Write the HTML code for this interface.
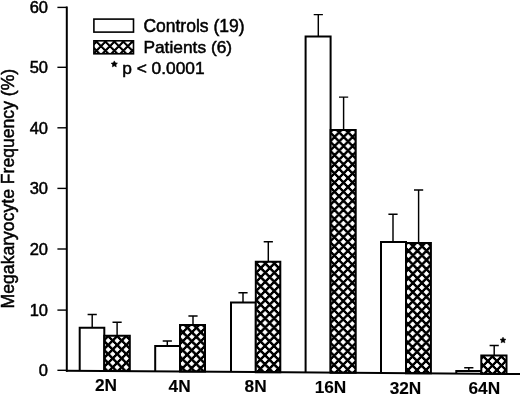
<!DOCTYPE html>
<html><head><meta charset="utf-8">
<style>
html,body{margin:0;padding:0;background:#fff;}
svg{display:block;will-change:transform;}
text{font-family:"Liberation Sans",sans-serif;fill:#000;stroke:#000;stroke-width:0.5px;}
text.b{stroke-width:0.1px;}
</style></head><body>
<svg width="520" height="395" viewBox="0 0 520 395">
<defs>
<clipPath id="c0"><rect x="104.30" y="335.80" width="25.50" height="35.23"/></clipPath>
<clipPath id="c1"><rect x="180.00" y="324.90" width="25.00" height="46.69"/></clipPath>
<clipPath id="c2"><rect x="255.80" y="261.70" width="24.50" height="110.45"/></clipPath>
<clipPath id="c3"><rect x="330.60" y="130.00" width="25.10" height="242.70"/></clipPath>
<clipPath id="c4"><rect x="406.00" y="243.10" width="24.90" height="130.15"/></clipPath>
<clipPath id="c5"><rect x="481.30" y="355.50" width="25.20" height="18.31"/></clipPath>
<clipPath id="cl"><rect x="93.9" y="40.8" width="39.6" height="13"/></clipPath>
</defs>
<rect width="520" height="395" fill="#fff"/>
<path d="M92.2 327.7 V314.4 M87.6 314.4 H96.8 M117.1 335.8 V322.3 M112.5 322.3 H121.7" stroke="#000" stroke-width="1.45" fill="none"/>
<path d="M79.7 370.85 V327.7 H104.3 V370.85" fill="#fff" stroke="#000" stroke-width="2"/>
<rect x="104.3" y="335.8" width="25.50" height="35.23" fill="#000"/>
<path clip-path="url(#c0)" d="M103.70 333.83l2.35 2.32l-2.35 2.32l-2.35 -2.32zM112.70 333.83l2.35 2.32l-2.35 2.32l-2.35 -2.32zM121.70 333.83l2.35 2.32l-2.35 2.32l-2.35 -2.32zM130.70 333.83l2.35 2.32l-2.35 2.32l-2.35 -2.32zM108.20 338.28l2.35 2.32l-2.35 2.32l-2.35 -2.32zM117.20 338.28l2.35 2.32l-2.35 2.32l-2.35 -2.32zM126.20 338.28l2.35 2.32l-2.35 2.32l-2.35 -2.32zM103.70 342.73l2.35 2.32l-2.35 2.32l-2.35 -2.32zM112.70 342.73l2.35 2.32l-2.35 2.32l-2.35 -2.32zM121.70 342.73l2.35 2.32l-2.35 2.32l-2.35 -2.32zM130.70 342.73l2.35 2.32l-2.35 2.32l-2.35 -2.32zM108.20 347.18l2.35 2.32l-2.35 2.32l-2.35 -2.32zM117.20 347.18l2.35 2.32l-2.35 2.32l-2.35 -2.32zM126.20 347.18l2.35 2.32l-2.35 2.32l-2.35 -2.32zM103.70 351.63l2.35 2.32l-2.35 2.32l-2.35 -2.32zM112.70 351.63l2.35 2.32l-2.35 2.32l-2.35 -2.32zM121.70 351.63l2.35 2.32l-2.35 2.32l-2.35 -2.32zM130.70 351.63l2.35 2.32l-2.35 2.32l-2.35 -2.32zM108.20 356.08l2.35 2.32l-2.35 2.32l-2.35 -2.32zM117.20 356.08l2.35 2.32l-2.35 2.32l-2.35 -2.32zM126.20 356.08l2.35 2.32l-2.35 2.32l-2.35 -2.32zM103.70 360.53l2.35 2.32l-2.35 2.32l-2.35 -2.32zM112.70 360.53l2.35 2.32l-2.35 2.32l-2.35 -2.32zM121.70 360.53l2.35 2.32l-2.35 2.32l-2.35 -2.32zM130.70 360.53l2.35 2.32l-2.35 2.32l-2.35 -2.32zM108.20 364.98l2.35 2.32l-2.35 2.32l-2.35 -2.32zM117.20 364.98l2.35 2.32l-2.35 2.32l-2.35 -2.32zM126.20 364.98l2.35 2.32l-2.35 2.32l-2.35 -2.32zM103.70 369.43l2.35 2.32l-2.35 2.32l-2.35 -2.32zM112.70 369.43l2.35 2.32l-2.35 2.32l-2.35 -2.32zM121.70 369.43l2.35 2.32l-2.35 2.32l-2.35 -2.32zM130.70 369.43l2.35 2.32l-2.35 2.32l-2.35 -2.32z" fill="#fff" stroke="#fff" stroke-width="0.8" stroke-linejoin="round"/>
<path d="M104.3 371.03 V335.8 H129.8 V371.03 Z" fill="none" stroke="#000" stroke-width="2"/>
<text x="106.0" y="391.1" font-size="17.3" font-weight="bold" text-anchor="middle" class="b">2N</text>
<path d="M167.3 346.0 V341.0 M162.7 341.0 H171.9 M193.0 324.9 V315.9 M188.4 315.9 H197.6" stroke="#000" stroke-width="1.45" fill="none"/>
<path d="M155.2 371.41 V346.0 H180.0 V371.41" fill="#fff" stroke="#000" stroke-width="2"/>
<rect x="180.0" y="324.9" width="25.00" height="46.69" fill="#000"/>
<path clip-path="url(#c1)" d="M178.44 320.97l2.35 2.34l-2.35 2.34l-2.35 -2.34zM187.44 320.97l2.35 2.34l-2.35 2.34l-2.35 -2.34zM196.44 320.97l2.35 2.34l-2.35 2.34l-2.35 -2.34zM205.44 320.97l2.35 2.34l-2.35 2.34l-2.35 -2.34zM182.90 325.46l2.35 2.34l-2.35 2.34l-2.35 -2.34zM191.90 325.46l2.35 2.34l-2.35 2.34l-2.35 -2.34zM200.90 325.46l2.35 2.34l-2.35 2.34l-2.35 -2.34zM178.36 329.94l2.35 2.34l-2.35 2.34l-2.35 -2.34zM187.36 329.94l2.35 2.34l-2.35 2.34l-2.35 -2.34zM196.36 329.94l2.35 2.34l-2.35 2.34l-2.35 -2.34zM205.36 329.94l2.35 2.34l-2.35 2.34l-2.35 -2.34zM182.83 334.43l2.35 2.34l-2.35 2.34l-2.35 -2.34zM191.83 334.43l2.35 2.34l-2.35 2.34l-2.35 -2.34zM200.83 334.43l2.35 2.34l-2.35 2.34l-2.35 -2.34zM178.29 338.92l2.35 2.34l-2.35 2.34l-2.35 -2.34zM187.29 338.92l2.35 2.34l-2.35 2.34l-2.35 -2.34zM196.29 338.92l2.35 2.34l-2.35 2.34l-2.35 -2.34zM205.29 338.92l2.35 2.34l-2.35 2.34l-2.35 -2.34zM182.75 343.41l2.35 2.34l-2.35 2.34l-2.35 -2.34zM191.75 343.41l2.35 2.34l-2.35 2.34l-2.35 -2.34zM200.75 343.41l2.35 2.34l-2.35 2.34l-2.35 -2.34zM178.21 347.89l2.35 2.34l-2.35 2.34l-2.35 -2.34zM187.21 347.89l2.35 2.34l-2.35 2.34l-2.35 -2.34zM196.21 347.89l2.35 2.34l-2.35 2.34l-2.35 -2.34zM205.21 347.89l2.35 2.34l-2.35 2.34l-2.35 -2.34zM182.67 352.38l2.35 2.34l-2.35 2.34l-2.35 -2.34zM191.67 352.38l2.35 2.34l-2.35 2.34l-2.35 -2.34zM200.67 352.38l2.35 2.34l-2.35 2.34l-2.35 -2.34zM178.14 356.87l2.35 2.34l-2.35 2.34l-2.35 -2.34zM187.14 356.87l2.35 2.34l-2.35 2.34l-2.35 -2.34zM196.14 356.87l2.35 2.34l-2.35 2.34l-2.35 -2.34zM205.14 356.87l2.35 2.34l-2.35 2.34l-2.35 -2.34zM182.60 361.36l2.35 2.34l-2.35 2.34l-2.35 -2.34zM191.60 361.36l2.35 2.34l-2.35 2.34l-2.35 -2.34zM200.60 361.36l2.35 2.34l-2.35 2.34l-2.35 -2.34zM178.06 365.84l2.35 2.34l-2.35 2.34l-2.35 -2.34zM187.06 365.84l2.35 2.34l-2.35 2.34l-2.35 -2.34zM196.06 365.84l2.35 2.34l-2.35 2.34l-2.35 -2.34zM205.06 365.84l2.35 2.34l-2.35 2.34l-2.35 -2.34zM182.53 370.33l2.35 2.34l-2.35 2.34l-2.35 -2.34zM191.53 370.33l2.35 2.34l-2.35 2.34l-2.35 -2.34zM200.53 370.33l2.35 2.34l-2.35 2.34l-2.35 -2.34z" fill="#fff" stroke="#fff" stroke-width="0.8" stroke-linejoin="round"/>
<path d="M180.0 371.59 V324.9 H205.0 V371.59 Z" fill="none" stroke="#000" stroke-width="2"/>
<text x="179.6" y="391.6" font-size="17.3" font-weight="bold" text-anchor="middle" class="b">4N</text>
<path d="M243.0 302.4 V292.8 M238.4 292.8 H247.6 M268.3 261.7 V241.7 M263.7 241.7 H272.9" stroke="#000" stroke-width="1.45" fill="none"/>
<path d="M231.0 371.96 V302.4 H255.8 V371.96" fill="#fff" stroke="#000" stroke-width="2"/>
<rect x="255.8" y="261.7" width="24.50" height="110.45" fill="#000"/>
<path clip-path="url(#c2)" d="M256.36 256.47l2.35 2.39l-2.35 2.39l-2.35 -2.39zM265.36 256.47l2.35 2.39l-2.35 2.39l-2.35 -2.39zM274.36 256.47l2.35 2.39l-2.35 2.39l-2.35 -2.39zM283.36 256.47l2.35 2.39l-2.35 2.39l-2.35 -2.39zM260.84 261.05l2.35 2.39l-2.35 2.39l-2.35 -2.39zM269.84 261.05l2.35 2.39l-2.35 2.39l-2.35 -2.39zM278.84 261.05l2.35 2.39l-2.35 2.39l-2.35 -2.39zM256.32 265.63l2.35 2.39l-2.35 2.39l-2.35 -2.39zM265.32 265.63l2.35 2.39l-2.35 2.39l-2.35 -2.39zM274.32 265.63l2.35 2.39l-2.35 2.39l-2.35 -2.39zM283.32 265.63l2.35 2.39l-2.35 2.39l-2.35 -2.39zM260.80 270.21l2.35 2.39l-2.35 2.39l-2.35 -2.39zM269.80 270.21l2.35 2.39l-2.35 2.39l-2.35 -2.39zM278.80 270.21l2.35 2.39l-2.35 2.39l-2.35 -2.39zM256.28 274.79l2.35 2.39l-2.35 2.39l-2.35 -2.39zM265.28 274.79l2.35 2.39l-2.35 2.39l-2.35 -2.39zM274.28 274.79l2.35 2.39l-2.35 2.39l-2.35 -2.39zM283.28 274.79l2.35 2.39l-2.35 2.39l-2.35 -2.39zM260.76 279.37l2.35 2.39l-2.35 2.39l-2.35 -2.39zM269.76 279.37l2.35 2.39l-2.35 2.39l-2.35 -2.39zM278.76 279.37l2.35 2.39l-2.35 2.39l-2.35 -2.39zM256.24 283.95l2.35 2.39l-2.35 2.39l-2.35 -2.39zM265.24 283.95l2.35 2.39l-2.35 2.39l-2.35 -2.39zM274.24 283.95l2.35 2.39l-2.35 2.39l-2.35 -2.39zM283.24 283.95l2.35 2.39l-2.35 2.39l-2.35 -2.39zM260.72 288.53l2.35 2.39l-2.35 2.39l-2.35 -2.39zM269.72 288.53l2.35 2.39l-2.35 2.39l-2.35 -2.39zM278.72 288.53l2.35 2.39l-2.35 2.39l-2.35 -2.39zM256.20 293.11l2.35 2.39l-2.35 2.39l-2.35 -2.39zM265.20 293.11l2.35 2.39l-2.35 2.39l-2.35 -2.39zM274.20 293.11l2.35 2.39l-2.35 2.39l-2.35 -2.39zM283.20 293.11l2.35 2.39l-2.35 2.39l-2.35 -2.39zM260.68 297.69l2.35 2.39l-2.35 2.39l-2.35 -2.39zM269.68 297.69l2.35 2.39l-2.35 2.39l-2.35 -2.39zM278.68 297.69l2.35 2.39l-2.35 2.39l-2.35 -2.39zM256.16 302.27l2.35 2.39l-2.35 2.39l-2.35 -2.39zM265.16 302.27l2.35 2.39l-2.35 2.39l-2.35 -2.39zM274.16 302.27l2.35 2.39l-2.35 2.39l-2.35 -2.39zM283.16 302.27l2.35 2.39l-2.35 2.39l-2.35 -2.39zM260.64 306.85l2.35 2.39l-2.35 2.39l-2.35 -2.39zM269.64 306.85l2.35 2.39l-2.35 2.39l-2.35 -2.39zM278.64 306.85l2.35 2.39l-2.35 2.39l-2.35 -2.39zM256.12 311.43l2.35 2.39l-2.35 2.39l-2.35 -2.39zM265.12 311.43l2.35 2.39l-2.35 2.39l-2.35 -2.39zM274.12 311.43l2.35 2.39l-2.35 2.39l-2.35 -2.39zM283.12 311.43l2.35 2.39l-2.35 2.39l-2.35 -2.39zM260.60 316.01l2.35 2.39l-2.35 2.39l-2.35 -2.39zM269.60 316.01l2.35 2.39l-2.35 2.39l-2.35 -2.39zM278.60 316.01l2.35 2.39l-2.35 2.39l-2.35 -2.39zM256.08 320.59l2.35 2.39l-2.35 2.39l-2.35 -2.39zM265.08 320.59l2.35 2.39l-2.35 2.39l-2.35 -2.39zM274.08 320.59l2.35 2.39l-2.35 2.39l-2.35 -2.39zM283.08 320.59l2.35 2.39l-2.35 2.39l-2.35 -2.39zM260.56 325.17l2.35 2.39l-2.35 2.39l-2.35 -2.39zM269.56 325.17l2.35 2.39l-2.35 2.39l-2.35 -2.39zM278.56 325.17l2.35 2.39l-2.35 2.39l-2.35 -2.39zM256.04 329.75l2.35 2.39l-2.35 2.39l-2.35 -2.39zM265.04 329.75l2.35 2.39l-2.35 2.39l-2.35 -2.39zM274.04 329.75l2.35 2.39l-2.35 2.39l-2.35 -2.39zM283.04 329.75l2.35 2.39l-2.35 2.39l-2.35 -2.39zM260.52 334.33l2.35 2.39l-2.35 2.39l-2.35 -2.39zM269.52 334.33l2.35 2.39l-2.35 2.39l-2.35 -2.39zM278.52 334.33l2.35 2.39l-2.35 2.39l-2.35 -2.39zM256.00 338.91l2.35 2.39l-2.35 2.39l-2.35 -2.39zM265.00 338.91l2.35 2.39l-2.35 2.39l-2.35 -2.39zM274.00 338.91l2.35 2.39l-2.35 2.39l-2.35 -2.39zM283.00 338.91l2.35 2.39l-2.35 2.39l-2.35 -2.39zM260.48 343.49l2.35 2.39l-2.35 2.39l-2.35 -2.39zM269.48 343.49l2.35 2.39l-2.35 2.39l-2.35 -2.39zM278.48 343.49l2.35 2.39l-2.35 2.39l-2.35 -2.39zM255.96 348.07l2.35 2.39l-2.35 2.39l-2.35 -2.39zM264.96 348.07l2.35 2.39l-2.35 2.39l-2.35 -2.39zM273.96 348.07l2.35 2.39l-2.35 2.39l-2.35 -2.39zM282.96 348.07l2.35 2.39l-2.35 2.39l-2.35 -2.39zM260.44 352.65l2.35 2.39l-2.35 2.39l-2.35 -2.39zM269.44 352.65l2.35 2.39l-2.35 2.39l-2.35 -2.39zM278.44 352.65l2.35 2.39l-2.35 2.39l-2.35 -2.39zM255.92 357.23l2.35 2.39l-2.35 2.39l-2.35 -2.39zM264.92 357.23l2.35 2.39l-2.35 2.39l-2.35 -2.39zM273.92 357.23l2.35 2.39l-2.35 2.39l-2.35 -2.39zM282.92 357.23l2.35 2.39l-2.35 2.39l-2.35 -2.39zM260.40 361.81l2.35 2.39l-2.35 2.39l-2.35 -2.39zM269.40 361.81l2.35 2.39l-2.35 2.39l-2.35 -2.39zM278.40 361.81l2.35 2.39l-2.35 2.39l-2.35 -2.39zM255.88 366.39l2.35 2.39l-2.35 2.39l-2.35 -2.39zM264.88 366.39l2.35 2.39l-2.35 2.39l-2.35 -2.39zM273.88 366.39l2.35 2.39l-2.35 2.39l-2.35 -2.39zM282.88 366.39l2.35 2.39l-2.35 2.39l-2.35 -2.39zM260.36 370.97l2.35 2.39l-2.35 2.39l-2.35 -2.39zM269.36 370.97l2.35 2.39l-2.35 2.39l-2.35 -2.39zM278.36 370.97l2.35 2.39l-2.35 2.39l-2.35 -2.39z" fill="#fff" stroke="#fff" stroke-width="0.8" stroke-linejoin="round"/>
<path d="M255.8 372.15 V261.7 H280.3 V372.15 Z" fill="none" stroke="#000" stroke-width="2"/>
<text x="255.6" y="392.3" font-size="17.3" font-weight="bold" text-anchor="middle" class="b">8N</text>
<path d="M318.3 36.4 V14.6 M313.7 14.6 H322.9 M343.6 130.0 V97.1 M339.0 97.1 H348.2" stroke="#000" stroke-width="1.45" fill="none"/>
<path d="M305.6 372.51 V36.4 H330.6 V372.51" fill="#fff" stroke="#000" stroke-width="2"/>
<rect x="330.6" y="130.0" width="25.10" height="242.70" fill="#000"/>
<path clip-path="url(#c3)" d="M330.13 125.40l2.40 2.43l-2.40 2.43l-2.40 -2.43zM339.13 125.40l2.40 2.43l-2.40 2.43l-2.40 -2.43zM348.13 125.40l2.40 2.43l-2.40 2.43l-2.40 -2.43zM357.13 125.40l2.40 2.43l-2.40 2.43l-2.40 -2.43zM334.62 129.95l2.40 2.43l-2.40 2.43l-2.40 -2.43zM343.62 129.95l2.40 2.43l-2.40 2.43l-2.40 -2.43zM352.62 129.95l2.40 2.43l-2.40 2.43l-2.40 -2.43zM330.11 134.51l2.40 2.43l-2.40 2.43l-2.40 -2.43zM339.11 134.51l2.40 2.43l-2.40 2.43l-2.40 -2.43zM348.11 134.51l2.40 2.43l-2.40 2.43l-2.40 -2.43zM357.11 134.51l2.40 2.43l-2.40 2.43l-2.40 -2.43zM334.60 139.07l2.40 2.43l-2.40 2.43l-2.40 -2.43zM343.60 139.07l2.40 2.43l-2.40 2.43l-2.40 -2.43zM352.60 139.07l2.40 2.43l-2.40 2.43l-2.40 -2.43zM330.09 143.63l2.40 2.43l-2.40 2.43l-2.40 -2.43zM339.09 143.63l2.40 2.43l-2.40 2.43l-2.40 -2.43zM348.09 143.63l2.40 2.43l-2.40 2.43l-2.40 -2.43zM357.09 143.63l2.40 2.43l-2.40 2.43l-2.40 -2.43zM334.58 148.19l2.40 2.43l-2.40 2.43l-2.40 -2.43zM343.58 148.19l2.40 2.43l-2.40 2.43l-2.40 -2.43zM352.58 148.19l2.40 2.43l-2.40 2.43l-2.40 -2.43zM330.07 152.74l2.40 2.43l-2.40 2.43l-2.40 -2.43zM339.07 152.74l2.40 2.43l-2.40 2.43l-2.40 -2.43zM348.07 152.74l2.40 2.43l-2.40 2.43l-2.40 -2.43zM357.07 152.74l2.40 2.43l-2.40 2.43l-2.40 -2.43zM334.56 157.30l2.40 2.43l-2.40 2.43l-2.40 -2.43zM343.56 157.30l2.40 2.43l-2.40 2.43l-2.40 -2.43zM352.56 157.30l2.40 2.43l-2.40 2.43l-2.40 -2.43zM330.05 161.86l2.40 2.43l-2.40 2.43l-2.40 -2.43zM339.05 161.86l2.40 2.43l-2.40 2.43l-2.40 -2.43zM348.05 161.86l2.40 2.43l-2.40 2.43l-2.40 -2.43zM357.05 161.86l2.40 2.43l-2.40 2.43l-2.40 -2.43zM334.54 166.42l2.40 2.43l-2.40 2.43l-2.40 -2.43zM343.54 166.42l2.40 2.43l-2.40 2.43l-2.40 -2.43zM352.54 166.42l2.40 2.43l-2.40 2.43l-2.40 -2.43zM330.03 170.98l2.40 2.43l-2.40 2.43l-2.40 -2.43zM339.03 170.98l2.40 2.43l-2.40 2.43l-2.40 -2.43zM348.03 170.98l2.40 2.43l-2.40 2.43l-2.40 -2.43zM357.03 170.98l2.40 2.43l-2.40 2.43l-2.40 -2.43zM334.52 175.53l2.40 2.43l-2.40 2.43l-2.40 -2.43zM343.52 175.53l2.40 2.43l-2.40 2.43l-2.40 -2.43zM352.52 175.53l2.40 2.43l-2.40 2.43l-2.40 -2.43zM330.01 180.09l2.40 2.43l-2.40 2.43l-2.40 -2.43zM339.01 180.09l2.40 2.43l-2.40 2.43l-2.40 -2.43zM348.01 180.09l2.40 2.43l-2.40 2.43l-2.40 -2.43zM357.01 180.09l2.40 2.43l-2.40 2.43l-2.40 -2.43zM334.50 184.65l2.40 2.43l-2.40 2.43l-2.40 -2.43zM343.50 184.65l2.40 2.43l-2.40 2.43l-2.40 -2.43zM352.50 184.65l2.40 2.43l-2.40 2.43l-2.40 -2.43zM329.99 189.21l2.40 2.43l-2.40 2.43l-2.40 -2.43zM338.99 189.21l2.40 2.43l-2.40 2.43l-2.40 -2.43zM347.99 189.21l2.40 2.43l-2.40 2.43l-2.40 -2.43zM356.99 189.21l2.40 2.43l-2.40 2.43l-2.40 -2.43zM334.48 193.77l2.40 2.43l-2.40 2.43l-2.40 -2.43zM343.48 193.77l2.40 2.43l-2.40 2.43l-2.40 -2.43zM352.48 193.77l2.40 2.43l-2.40 2.43l-2.40 -2.43zM329.97 198.32l2.40 2.43l-2.40 2.43l-2.40 -2.43zM338.97 198.32l2.40 2.43l-2.40 2.43l-2.40 -2.43zM347.97 198.32l2.40 2.43l-2.40 2.43l-2.40 -2.43zM356.97 198.32l2.40 2.43l-2.40 2.43l-2.40 -2.43zM334.46 202.88l2.40 2.43l-2.40 2.43l-2.40 -2.43zM343.46 202.88l2.40 2.43l-2.40 2.43l-2.40 -2.43zM352.46 202.88l2.40 2.43l-2.40 2.43l-2.40 -2.43zM329.95 207.44l2.40 2.43l-2.40 2.43l-2.40 -2.43zM338.95 207.44l2.40 2.43l-2.40 2.43l-2.40 -2.43zM347.95 207.44l2.40 2.43l-2.40 2.43l-2.40 -2.43zM356.95 207.44l2.40 2.43l-2.40 2.43l-2.40 -2.43zM334.44 212.00l2.40 2.43l-2.40 2.43l-2.40 -2.43zM343.44 212.00l2.40 2.43l-2.40 2.43l-2.40 -2.43zM352.44 212.00l2.40 2.43l-2.40 2.43l-2.40 -2.43zM329.93 216.56l2.40 2.43l-2.40 2.43l-2.40 -2.43zM338.93 216.56l2.40 2.43l-2.40 2.43l-2.40 -2.43zM347.93 216.56l2.40 2.43l-2.40 2.43l-2.40 -2.43zM356.93 216.56l2.40 2.43l-2.40 2.43l-2.40 -2.43zM334.42 221.11l2.40 2.43l-2.40 2.43l-2.40 -2.43zM343.42 221.11l2.40 2.43l-2.40 2.43l-2.40 -2.43zM352.42 221.11l2.40 2.43l-2.40 2.43l-2.40 -2.43zM329.91 225.67l2.40 2.43l-2.40 2.43l-2.40 -2.43zM338.91 225.67l2.40 2.43l-2.40 2.43l-2.40 -2.43zM347.91 225.67l2.40 2.43l-2.40 2.43l-2.40 -2.43zM356.91 225.67l2.40 2.43l-2.40 2.43l-2.40 -2.43zM334.40 230.23l2.40 2.43l-2.40 2.43l-2.40 -2.43zM343.40 230.23l2.40 2.43l-2.40 2.43l-2.40 -2.43zM352.40 230.23l2.40 2.43l-2.40 2.43l-2.40 -2.43zM329.89 234.79l2.40 2.43l-2.40 2.43l-2.40 -2.43zM338.89 234.79l2.40 2.43l-2.40 2.43l-2.40 -2.43zM347.89 234.79l2.40 2.43l-2.40 2.43l-2.40 -2.43zM356.89 234.79l2.40 2.43l-2.40 2.43l-2.40 -2.43zM334.38 239.35l2.40 2.43l-2.40 2.43l-2.40 -2.43zM343.38 239.35l2.40 2.43l-2.40 2.43l-2.40 -2.43zM352.38 239.35l2.40 2.43l-2.40 2.43l-2.40 -2.43zM329.87 243.90l2.40 2.43l-2.40 2.43l-2.40 -2.43zM338.87 243.90l2.40 2.43l-2.40 2.43l-2.40 -2.43zM347.87 243.90l2.40 2.43l-2.40 2.43l-2.40 -2.43zM356.87 243.90l2.40 2.43l-2.40 2.43l-2.40 -2.43zM334.36 248.46l2.40 2.43l-2.40 2.43l-2.40 -2.43zM343.36 248.46l2.40 2.43l-2.40 2.43l-2.40 -2.43zM352.36 248.46l2.40 2.43l-2.40 2.43l-2.40 -2.43zM329.85 253.02l2.40 2.43l-2.40 2.43l-2.40 -2.43zM338.85 253.02l2.40 2.43l-2.40 2.43l-2.40 -2.43zM347.85 253.02l2.40 2.43l-2.40 2.43l-2.40 -2.43zM356.85 253.02l2.40 2.43l-2.40 2.43l-2.40 -2.43zM334.34 257.58l2.40 2.43l-2.40 2.43l-2.40 -2.43zM343.34 257.58l2.40 2.43l-2.40 2.43l-2.40 -2.43zM352.34 257.58l2.40 2.43l-2.40 2.43l-2.40 -2.43zM329.83 262.14l2.40 2.43l-2.40 2.43l-2.40 -2.43zM338.83 262.14l2.40 2.43l-2.40 2.43l-2.40 -2.43zM347.83 262.14l2.40 2.43l-2.40 2.43l-2.40 -2.43zM356.83 262.14l2.40 2.43l-2.40 2.43l-2.40 -2.43zM334.32 266.69l2.40 2.43l-2.40 2.43l-2.40 -2.43zM343.32 266.69l2.40 2.43l-2.40 2.43l-2.40 -2.43zM352.32 266.69l2.40 2.43l-2.40 2.43l-2.40 -2.43zM329.81 271.25l2.40 2.43l-2.40 2.43l-2.40 -2.43zM338.81 271.25l2.40 2.43l-2.40 2.43l-2.40 -2.43zM347.81 271.25l2.40 2.43l-2.40 2.43l-2.40 -2.43zM356.81 271.25l2.40 2.43l-2.40 2.43l-2.40 -2.43zM334.30 275.81l2.40 2.43l-2.40 2.43l-2.40 -2.43zM343.30 275.81l2.40 2.43l-2.40 2.43l-2.40 -2.43zM352.30 275.81l2.40 2.43l-2.40 2.43l-2.40 -2.43zM329.79 280.37l2.40 2.43l-2.40 2.43l-2.40 -2.43zM338.79 280.37l2.40 2.43l-2.40 2.43l-2.40 -2.43zM347.79 280.37l2.40 2.43l-2.40 2.43l-2.40 -2.43zM356.79 280.37l2.40 2.43l-2.40 2.43l-2.40 -2.43zM334.28 284.93l2.40 2.43l-2.40 2.43l-2.40 -2.43zM343.28 284.93l2.40 2.43l-2.40 2.43l-2.40 -2.43zM352.28 284.93l2.40 2.43l-2.40 2.43l-2.40 -2.43zM329.77 289.48l2.40 2.43l-2.40 2.43l-2.40 -2.43zM338.77 289.48l2.40 2.43l-2.40 2.43l-2.40 -2.43zM347.77 289.48l2.40 2.43l-2.40 2.43l-2.40 -2.43zM356.77 289.48l2.40 2.43l-2.40 2.43l-2.40 -2.43zM334.26 294.04l2.40 2.43l-2.40 2.43l-2.40 -2.43zM343.26 294.04l2.40 2.43l-2.40 2.43l-2.40 -2.43zM352.26 294.04l2.40 2.43l-2.40 2.43l-2.40 -2.43zM329.75 298.60l2.40 2.43l-2.40 2.43l-2.40 -2.43zM338.75 298.60l2.40 2.43l-2.40 2.43l-2.40 -2.43zM347.75 298.60l2.40 2.43l-2.40 2.43l-2.40 -2.43zM356.75 298.60l2.40 2.43l-2.40 2.43l-2.40 -2.43zM334.24 303.16l2.40 2.43l-2.40 2.43l-2.40 -2.43zM343.24 303.16l2.40 2.43l-2.40 2.43l-2.40 -2.43zM352.24 303.16l2.40 2.43l-2.40 2.43l-2.40 -2.43zM329.73 307.72l2.40 2.43l-2.40 2.43l-2.40 -2.43zM338.73 307.72l2.40 2.43l-2.40 2.43l-2.40 -2.43zM347.73 307.72l2.40 2.43l-2.40 2.43l-2.40 -2.43zM356.73 307.72l2.40 2.43l-2.40 2.43l-2.40 -2.43zM334.22 312.27l2.40 2.43l-2.40 2.43l-2.40 -2.43zM343.22 312.27l2.40 2.43l-2.40 2.43l-2.40 -2.43zM352.22 312.27l2.40 2.43l-2.40 2.43l-2.40 -2.43zM329.71 316.83l2.40 2.43l-2.40 2.43l-2.40 -2.43zM338.71 316.83l2.40 2.43l-2.40 2.43l-2.40 -2.43zM347.71 316.83l2.40 2.43l-2.40 2.43l-2.40 -2.43zM356.71 316.83l2.40 2.43l-2.40 2.43l-2.40 -2.43zM334.20 321.39l2.40 2.43l-2.40 2.43l-2.40 -2.43zM343.20 321.39l2.40 2.43l-2.40 2.43l-2.40 -2.43zM352.20 321.39l2.40 2.43l-2.40 2.43l-2.40 -2.43zM329.69 325.95l2.40 2.43l-2.40 2.43l-2.40 -2.43zM338.69 325.95l2.40 2.43l-2.40 2.43l-2.40 -2.43zM347.69 325.95l2.40 2.43l-2.40 2.43l-2.40 -2.43zM356.69 325.95l2.40 2.43l-2.40 2.43l-2.40 -2.43zM334.18 330.51l2.40 2.43l-2.40 2.43l-2.40 -2.43zM343.18 330.51l2.40 2.43l-2.40 2.43l-2.40 -2.43zM352.18 330.51l2.40 2.43l-2.40 2.43l-2.40 -2.43zM329.67 335.06l2.40 2.43l-2.40 2.43l-2.40 -2.43zM338.67 335.06l2.40 2.43l-2.40 2.43l-2.40 -2.43zM347.67 335.06l2.40 2.43l-2.40 2.43l-2.40 -2.43zM356.67 335.06l2.40 2.43l-2.40 2.43l-2.40 -2.43zM334.16 339.62l2.40 2.43l-2.40 2.43l-2.40 -2.43zM343.16 339.62l2.40 2.43l-2.40 2.43l-2.40 -2.43zM352.16 339.62l2.40 2.43l-2.40 2.43l-2.40 -2.43zM329.65 344.18l2.40 2.43l-2.40 2.43l-2.40 -2.43zM338.65 344.18l2.40 2.43l-2.40 2.43l-2.40 -2.43zM347.65 344.18l2.40 2.43l-2.40 2.43l-2.40 -2.43zM356.65 344.18l2.40 2.43l-2.40 2.43l-2.40 -2.43zM334.14 348.74l2.40 2.43l-2.40 2.43l-2.40 -2.43zM343.14 348.74l2.40 2.43l-2.40 2.43l-2.40 -2.43zM352.14 348.74l2.40 2.43l-2.40 2.43l-2.40 -2.43zM329.63 353.30l2.40 2.43l-2.40 2.43l-2.40 -2.43zM338.63 353.30l2.40 2.43l-2.40 2.43l-2.40 -2.43zM347.63 353.30l2.40 2.43l-2.40 2.43l-2.40 -2.43zM356.63 353.30l2.40 2.43l-2.40 2.43l-2.40 -2.43zM334.12 357.85l2.40 2.43l-2.40 2.43l-2.40 -2.43zM343.12 357.85l2.40 2.43l-2.40 2.43l-2.40 -2.43zM352.12 357.85l2.40 2.43l-2.40 2.43l-2.40 -2.43zM329.61 362.41l2.40 2.43l-2.40 2.43l-2.40 -2.43zM338.61 362.41l2.40 2.43l-2.40 2.43l-2.40 -2.43zM347.61 362.41l2.40 2.43l-2.40 2.43l-2.40 -2.43zM356.61 362.41l2.40 2.43l-2.40 2.43l-2.40 -2.43zM334.10 366.97l2.40 2.43l-2.40 2.43l-2.40 -2.43zM343.10 366.97l2.40 2.43l-2.40 2.43l-2.40 -2.43zM352.10 366.97l2.40 2.43l-2.40 2.43l-2.40 -2.43zM329.59 371.53l2.40 2.43l-2.40 2.43l-2.40 -2.43zM338.59 371.53l2.40 2.43l-2.40 2.43l-2.40 -2.43zM347.59 371.53l2.40 2.43l-2.40 2.43l-2.40 -2.43zM356.59 371.53l2.40 2.43l-2.40 2.43l-2.40 -2.43z" fill="#fff" stroke="#fff" stroke-width="0.8" stroke-linejoin="round"/>
<path d="M330.6 372.70 V130.0 H355.7 V372.70 Z" fill="none" stroke="#000" stroke-width="2"/>
<text x="330.5" y="393.1" font-size="17.3" font-weight="bold" text-anchor="middle" class="b">16N</text>
<path d="M393.0 241.9 V214.3 M388.4 214.3 H397.6 M418.6 243.1 V189.9 M414.0 189.9 H423.2" stroke="#000" stroke-width="1.45" fill="none"/>
<path d="M381.0 373.07 V241.9 H406.0 V373.07" fill="#fff" stroke="#000" stroke-width="2"/>
<rect x="406.0" y="243.1" width="24.90" height="130.15" fill="#000"/>
<path clip-path="url(#c4)" d="M404.06 239.24l2.35 2.40l-2.35 2.40l-2.35 -2.40zM413.06 239.24l2.35 2.40l-2.35 2.40l-2.35 -2.40zM422.06 239.24l2.35 2.40l-2.35 2.40l-2.35 -2.40zM431.06 239.24l2.35 2.40l-2.35 2.40l-2.35 -2.40zM408.54 243.83l2.35 2.40l-2.35 2.40l-2.35 -2.40zM417.54 243.83l2.35 2.40l-2.35 2.40l-2.35 -2.40zM426.54 243.83l2.35 2.40l-2.35 2.40l-2.35 -2.40zM404.02 248.42l2.35 2.40l-2.35 2.40l-2.35 -2.40zM413.02 248.42l2.35 2.40l-2.35 2.40l-2.35 -2.40zM422.02 248.42l2.35 2.40l-2.35 2.40l-2.35 -2.40zM431.02 248.42l2.35 2.40l-2.35 2.40l-2.35 -2.40zM408.50 253.00l2.35 2.40l-2.35 2.40l-2.35 -2.40zM417.50 253.00l2.35 2.40l-2.35 2.40l-2.35 -2.40zM426.50 253.00l2.35 2.40l-2.35 2.40l-2.35 -2.40zM403.98 257.59l2.35 2.40l-2.35 2.40l-2.35 -2.40zM412.98 257.59l2.35 2.40l-2.35 2.40l-2.35 -2.40zM421.98 257.59l2.35 2.40l-2.35 2.40l-2.35 -2.40zM430.98 257.59l2.35 2.40l-2.35 2.40l-2.35 -2.40zM408.46 262.18l2.35 2.40l-2.35 2.40l-2.35 -2.40zM417.46 262.18l2.35 2.40l-2.35 2.40l-2.35 -2.40zM426.46 262.18l2.35 2.40l-2.35 2.40l-2.35 -2.40zM403.94 266.77l2.35 2.40l-2.35 2.40l-2.35 -2.40zM412.94 266.77l2.35 2.40l-2.35 2.40l-2.35 -2.40zM421.94 266.77l2.35 2.40l-2.35 2.40l-2.35 -2.40zM430.94 266.77l2.35 2.40l-2.35 2.40l-2.35 -2.40zM408.42 271.35l2.35 2.40l-2.35 2.40l-2.35 -2.40zM417.42 271.35l2.35 2.40l-2.35 2.40l-2.35 -2.40zM426.42 271.35l2.35 2.40l-2.35 2.40l-2.35 -2.40zM403.90 275.94l2.35 2.40l-2.35 2.40l-2.35 -2.40zM412.90 275.94l2.35 2.40l-2.35 2.40l-2.35 -2.40zM421.90 275.94l2.35 2.40l-2.35 2.40l-2.35 -2.40zM430.90 275.94l2.35 2.40l-2.35 2.40l-2.35 -2.40zM408.38 280.53l2.35 2.40l-2.35 2.40l-2.35 -2.40zM417.38 280.53l2.35 2.40l-2.35 2.40l-2.35 -2.40zM426.38 280.53l2.35 2.40l-2.35 2.40l-2.35 -2.40zM403.85 285.12l2.35 2.40l-2.35 2.40l-2.35 -2.40zM412.85 285.12l2.35 2.40l-2.35 2.40l-2.35 -2.40zM421.85 285.12l2.35 2.40l-2.35 2.40l-2.35 -2.40zM430.85 285.12l2.35 2.40l-2.35 2.40l-2.35 -2.40zM408.33 289.70l2.35 2.40l-2.35 2.40l-2.35 -2.40zM417.33 289.70l2.35 2.40l-2.35 2.40l-2.35 -2.40zM426.33 289.70l2.35 2.40l-2.35 2.40l-2.35 -2.40zM403.81 294.29l2.35 2.40l-2.35 2.40l-2.35 -2.40zM412.81 294.29l2.35 2.40l-2.35 2.40l-2.35 -2.40zM421.81 294.29l2.35 2.40l-2.35 2.40l-2.35 -2.40zM430.81 294.29l2.35 2.40l-2.35 2.40l-2.35 -2.40zM408.29 298.88l2.35 2.40l-2.35 2.40l-2.35 -2.40zM417.29 298.88l2.35 2.40l-2.35 2.40l-2.35 -2.40zM426.29 298.88l2.35 2.40l-2.35 2.40l-2.35 -2.40zM403.77 303.47l2.35 2.40l-2.35 2.40l-2.35 -2.40zM412.77 303.47l2.35 2.40l-2.35 2.40l-2.35 -2.40zM421.77 303.47l2.35 2.40l-2.35 2.40l-2.35 -2.40zM430.77 303.47l2.35 2.40l-2.35 2.40l-2.35 -2.40zM408.25 308.05l2.35 2.40l-2.35 2.40l-2.35 -2.40zM417.25 308.05l2.35 2.40l-2.35 2.40l-2.35 -2.40zM426.25 308.05l2.35 2.40l-2.35 2.40l-2.35 -2.40zM403.73 312.64l2.35 2.40l-2.35 2.40l-2.35 -2.40zM412.73 312.64l2.35 2.40l-2.35 2.40l-2.35 -2.40zM421.73 312.64l2.35 2.40l-2.35 2.40l-2.35 -2.40zM430.73 312.64l2.35 2.40l-2.35 2.40l-2.35 -2.40zM408.21 317.23l2.35 2.40l-2.35 2.40l-2.35 -2.40zM417.21 317.23l2.35 2.40l-2.35 2.40l-2.35 -2.40zM426.21 317.23l2.35 2.40l-2.35 2.40l-2.35 -2.40zM403.69 321.82l2.35 2.40l-2.35 2.40l-2.35 -2.40zM412.69 321.82l2.35 2.40l-2.35 2.40l-2.35 -2.40zM421.69 321.82l2.35 2.40l-2.35 2.40l-2.35 -2.40zM430.69 321.82l2.35 2.40l-2.35 2.40l-2.35 -2.40zM408.17 326.40l2.35 2.40l-2.35 2.40l-2.35 -2.40zM417.17 326.40l2.35 2.40l-2.35 2.40l-2.35 -2.40zM426.17 326.40l2.35 2.40l-2.35 2.40l-2.35 -2.40zM403.65 330.99l2.35 2.40l-2.35 2.40l-2.35 -2.40zM412.65 330.99l2.35 2.40l-2.35 2.40l-2.35 -2.40zM421.65 330.99l2.35 2.40l-2.35 2.40l-2.35 -2.40zM430.65 330.99l2.35 2.40l-2.35 2.40l-2.35 -2.40zM408.12 335.58l2.35 2.40l-2.35 2.40l-2.35 -2.40zM417.12 335.58l2.35 2.40l-2.35 2.40l-2.35 -2.40zM426.12 335.58l2.35 2.40l-2.35 2.40l-2.35 -2.40zM403.60 340.17l2.35 2.40l-2.35 2.40l-2.35 -2.40zM412.60 340.17l2.35 2.40l-2.35 2.40l-2.35 -2.40zM421.60 340.17l2.35 2.40l-2.35 2.40l-2.35 -2.40zM430.60 340.17l2.35 2.40l-2.35 2.40l-2.35 -2.40zM408.08 344.75l2.35 2.40l-2.35 2.40l-2.35 -2.40zM417.08 344.75l2.35 2.40l-2.35 2.40l-2.35 -2.40zM426.08 344.75l2.35 2.40l-2.35 2.40l-2.35 -2.40zM403.56 349.34l2.35 2.40l-2.35 2.40l-2.35 -2.40zM412.56 349.34l2.35 2.40l-2.35 2.40l-2.35 -2.40zM421.56 349.34l2.35 2.40l-2.35 2.40l-2.35 -2.40zM430.56 349.34l2.35 2.40l-2.35 2.40l-2.35 -2.40zM408.04 353.93l2.35 2.40l-2.35 2.40l-2.35 -2.40zM417.04 353.93l2.35 2.40l-2.35 2.40l-2.35 -2.40zM426.04 353.93l2.35 2.40l-2.35 2.40l-2.35 -2.40zM403.52 358.52l2.35 2.40l-2.35 2.40l-2.35 -2.40zM412.52 358.52l2.35 2.40l-2.35 2.40l-2.35 -2.40zM421.52 358.52l2.35 2.40l-2.35 2.40l-2.35 -2.40zM430.52 358.52l2.35 2.40l-2.35 2.40l-2.35 -2.40zM408.00 363.10l2.35 2.40l-2.35 2.40l-2.35 -2.40zM417.00 363.10l2.35 2.40l-2.35 2.40l-2.35 -2.40zM426.00 363.10l2.35 2.40l-2.35 2.40l-2.35 -2.40zM403.48 367.69l2.35 2.40l-2.35 2.40l-2.35 -2.40zM412.48 367.69l2.35 2.40l-2.35 2.40l-2.35 -2.40zM421.48 367.69l2.35 2.40l-2.35 2.40l-2.35 -2.40zM430.48 367.69l2.35 2.40l-2.35 2.40l-2.35 -2.40zM407.96 372.28l2.35 2.40l-2.35 2.40l-2.35 -2.40zM416.96 372.28l2.35 2.40l-2.35 2.40l-2.35 -2.40zM425.96 372.28l2.35 2.40l-2.35 2.40l-2.35 -2.40z" fill="#fff" stroke="#fff" stroke-width="0.8" stroke-linejoin="round"/>
<path d="M406.0 373.25 V243.1 H430.9 V373.25 Z" fill="none" stroke="#000" stroke-width="2"/>
<text x="405.5" y="393.7" font-size="17.3" font-weight="bold" text-anchor="middle" class="b">32N</text>
<path d="M468.8 370.9 V367.8 M464.2 367.8 H473.4 M494.2 355.5 V345.4 M489.6 345.4 H498.8" stroke="#000" stroke-width="1.45" fill="none"/>
<path d="M456.3 373.62 V370.9 H481.3 V373.62" fill="#fff" stroke="#000" stroke-width="2"/>
<rect x="481.3" y="355.5" width="25.20" height="18.31" fill="#000"/>
<path clip-path="url(#c5)" d="M478.90 354.10l2.40 2.40l-2.40 2.40l-2.40 -2.40zM487.90 354.10l2.40 2.40l-2.40 2.40l-2.40 -2.40zM496.90 354.10l2.40 2.40l-2.40 2.40l-2.40 -2.40zM505.90 354.10l2.40 2.40l-2.40 2.40l-2.40 -2.40zM483.40 358.60l2.40 2.40l-2.40 2.40l-2.40 -2.40zM492.40 358.60l2.40 2.40l-2.40 2.40l-2.40 -2.40zM501.40 358.60l2.40 2.40l-2.40 2.40l-2.40 -2.40zM478.90 363.10l2.40 2.40l-2.40 2.40l-2.40 -2.40zM487.90 363.10l2.40 2.40l-2.40 2.40l-2.40 -2.40zM496.90 363.10l2.40 2.40l-2.40 2.40l-2.40 -2.40zM505.90 363.10l2.40 2.40l-2.40 2.40l-2.40 -2.40zM483.40 367.60l2.40 2.40l-2.40 2.40l-2.40 -2.40zM492.40 367.60l2.40 2.40l-2.40 2.40l-2.40 -2.40zM501.40 367.60l2.40 2.40l-2.40 2.40l-2.40 -2.40zM478.90 372.10l2.40 2.40l-2.40 2.40l-2.40 -2.40zM487.90 372.10l2.40 2.40l-2.40 2.40l-2.40 -2.40zM496.90 372.10l2.40 2.40l-2.40 2.40l-2.40 -2.40zM505.90 372.10l2.40 2.40l-2.40 2.40l-2.40 -2.40z" fill="#fff" stroke="#fff" stroke-width="0.8" stroke-linejoin="round"/>
<path d="M481.3 373.81 V355.5 H506.5 V373.81 Z" fill="none" stroke="#000" stroke-width="2"/>
<text x="484.3" y="394.4" font-size="17.3" font-weight="bold" text-anchor="middle" class="b">64N</text>
<line x1="66.8" y1="6.6" x2="66.8" y2="371.67" stroke="#000" stroke-width="2"/>
<line x1="66" y1="370.66" x2="520" y2="374.00" stroke="#000" stroke-width="2"/>
<line x1="57.4" y1="7.4" x2="67" y2="7.4" stroke="#000" stroke-width="1.4"/>
<text x="48.0" y="13.2" font-size="16.5" text-anchor="end">60</text>
<line x1="57.4" y1="67.3" x2="67" y2="67.3" stroke="#000" stroke-width="1.4"/>
<text x="48.0" y="73.1" font-size="16.5" text-anchor="end">50</text>
<line x1="57.4" y1="127.8" x2="67" y2="127.8" stroke="#000" stroke-width="1.4"/>
<text x="48.0" y="133.6" font-size="16.5" text-anchor="end">40</text>
<line x1="57.4" y1="188.4" x2="67" y2="188.4" stroke="#000" stroke-width="1.4"/>
<text x="48.0" y="194.2" font-size="16.5" text-anchor="end">30</text>
<line x1="57.4" y1="249.0" x2="67" y2="249.0" stroke="#000" stroke-width="1.4"/>
<text x="48.0" y="254.8" font-size="16.5" text-anchor="end">20</text>
<line x1="57.4" y1="310.1" x2="67" y2="310.1" stroke="#000" stroke-width="1.4"/>
<text x="48.0" y="315.9" font-size="16.5" text-anchor="end">10</text>
<line x1="57.4" y1="370.3" x2="67" y2="370.3" stroke="#000" stroke-width="1.4"/>
<text x="48.0" y="376.1" font-size="16.5" text-anchor="end">0</text>
<text transform="translate(14.3 188.6) rotate(-90)" font-size="17.6" text-anchor="middle">Megakaryocyte Frequency (%)</text>
<rect x="93.9" y="19.1" width="39.6" height="13" fill="#fff" stroke="#000" stroke-width="1.6"/>
<rect x="93.9" y="40.8" width="39.6" height="13" fill="#000"/>
<path clip-path="url(#cl)" d="M96.50 34.59l2.60 2.61l-2.60 2.61l-2.60 -2.61zM105.45 34.59l2.60 2.61l-2.60 2.61l-2.60 -2.61zM114.40 34.59l2.60 2.61l-2.60 2.61l-2.60 -2.61zM123.35 34.59l2.60 2.61l-2.60 2.61l-2.60 -2.61zM132.30 34.59l2.60 2.61l-2.60 2.61l-2.60 -2.61zM92.02 39.09l2.60 2.61l-2.60 2.61l-2.60 -2.61zM100.97 39.09l2.60 2.61l-2.60 2.61l-2.60 -2.61zM109.92 39.09l2.60 2.61l-2.60 2.61l-2.60 -2.61zM118.88 39.09l2.60 2.61l-2.60 2.61l-2.60 -2.61zM127.82 39.09l2.60 2.61l-2.60 2.61l-2.60 -2.61zM136.77 39.09l2.60 2.61l-2.60 2.61l-2.60 -2.61zM96.50 43.59l2.60 2.61l-2.60 2.61l-2.60 -2.61zM105.45 43.59l2.60 2.61l-2.60 2.61l-2.60 -2.61zM114.40 43.59l2.60 2.61l-2.60 2.61l-2.60 -2.61zM123.35 43.59l2.60 2.61l-2.60 2.61l-2.60 -2.61zM132.30 43.59l2.60 2.61l-2.60 2.61l-2.60 -2.61zM92.02 48.09l2.60 2.61l-2.60 2.61l-2.60 -2.61zM100.97 48.09l2.60 2.61l-2.60 2.61l-2.60 -2.61zM109.92 48.09l2.60 2.61l-2.60 2.61l-2.60 -2.61zM118.88 48.09l2.60 2.61l-2.60 2.61l-2.60 -2.61zM127.82 48.09l2.60 2.61l-2.60 2.61l-2.60 -2.61zM136.77 48.09l2.60 2.61l-2.60 2.61l-2.60 -2.61zM96.50 52.59l2.60 2.61l-2.60 2.61l-2.60 -2.61zM105.45 52.59l2.60 2.61l-2.60 2.61l-2.60 -2.61zM114.40 52.59l2.60 2.61l-2.60 2.61l-2.60 -2.61zM123.35 52.59l2.60 2.61l-2.60 2.61l-2.60 -2.61zM132.30 52.59l2.60 2.61l-2.60 2.61l-2.60 -2.61z" fill="#fff" stroke="#fff" stroke-width="0.8" stroke-linejoin="round"/>
<rect x="93.9" y="40.8" width="39.6" height="13" fill="none" stroke="#000" stroke-width="1.6"/>
<text x="143.4" y="32.1" font-size="17.5">Controls (19)</text>
<text x="143.4" y="53.1" font-size="17.35">Patients (6)</text>
<polygon points="114.30,60.90 115.27,62.87 117.44,63.18 115.87,64.71 116.24,66.87 114.30,65.85 112.36,66.87 112.73,64.71 111.16,63.18 113.33,62.87" fill="#000" stroke="#000" stroke-width="0.6" stroke-linejoin="round"/>
<text x="122.2" y="74.4" font-size="17.35">p &lt; 0.0001</text>
<polygon points="503.00,337.20 503.91,339.05 505.95,339.34 504.47,340.78 504.82,342.81 503.00,341.85 501.18,342.81 501.53,340.78 500.05,339.34 502.09,339.05" fill="#000" stroke="#000" stroke-width="0.6" stroke-linejoin="round"/>
</svg>
</body></html>
